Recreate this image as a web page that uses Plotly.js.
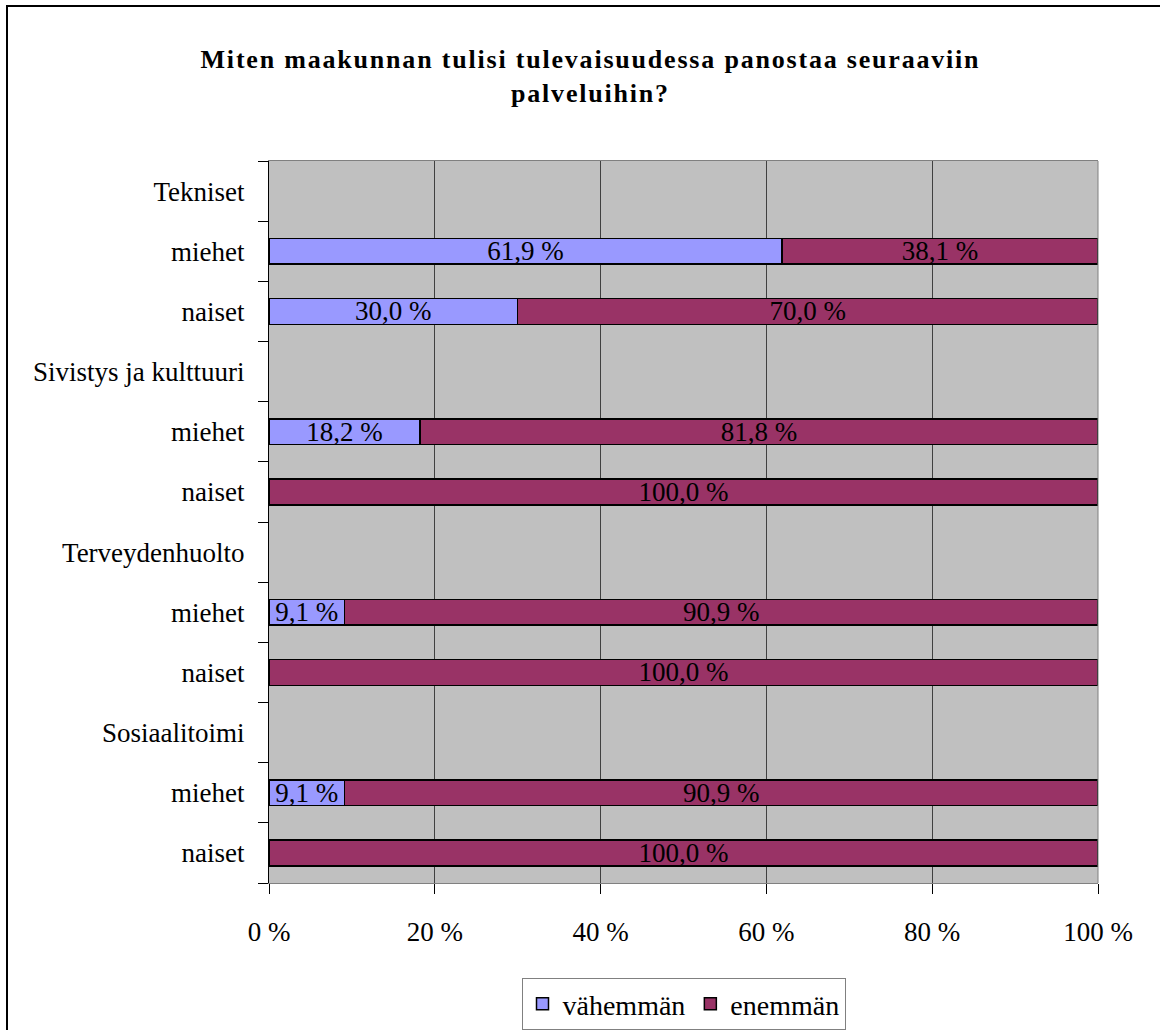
<!DOCTYPE html>
<html>
<head>
<meta charset="utf-8">
<script src="https://cdn.plot.ly/plotly-3.0.1.min.js"></script>
<style>
  html, body { margin: 0; padding: 0; background: #ffffff; }
  #wrap { position: relative; width: 1160px; height: 1030px; overflow: hidden; }
  #chart { width: 1160px; height: 1030px; }
  #frame { position: absolute; left: 6px; top: 5px; width: 1200px; height: 1100px;
           border-left: 2px solid #000; border-top: 2px solid #000; pointer-events: none; }
  .gtitle { letter-spacing: 1.8px; }
</style>
</head>
<body>
<div id="wrap">
  <div id="chart"></div>
  <div id="frame"></div>
</div>
<script>
// ---- data ----
var rowLabels = ['Tekniset', 'miehet', 'naiset',
                 'Sivistys ja kulttuuri', 'miehet', 'naiset',
                 'Terveydenhuolto', 'miehet', 'naiset',
                 'Sosiaalitoimi', 'miehet', 'naiset'];
var vahemman = [null, 61.9, 30.0, null, 18.2, null, null, 9.1, null, null, 9.1, null];
var enemman  = [null, 38.1, 70.0, null, 81.8, 100.0, null, 90.9, 100.0, null, 90.9, 100.0];
var seriesNames = ['vähemmän', 'enemmän'];
var seriesColors = ['#9999FF', '#993366'];
var xTickVals = [0, 20, 40, 60, 80, 100];
var xTickText = ['0 %', '20 %', '40 %', '60 %', '80 %', '100 %'];
var titleText = 'Miten maakunnan tulisi tulevaisuudessa panostaa seuraaviin<br>palveluihin?';

// ---- build ----
var pos = rowLabels.map(function (_, i) { return i; });
var bounds = [];
for (var b = 0; b <= rowLabels.length; b++) bounds.push(b - 0.5);
function fmt(v) { return v == null ? '' : v.toFixed(1).replace('.', ',') + ' %'; }

var font = 'Liberation Serif, Times New Roman, serif';
var fs = 27;

function makeTrace(vals, name, color) {
  return {
    type: 'bar', orientation: 'h',
    x: vals, y: pos, name: name,
    width: 0.43,
    marker: { color: color, line: { color: '#000000', width: 1.5 } },
    text: vals.map(fmt), textposition: 'inside', insidetextanchor: 'middle',
    textangle: 0, constraintext: 'none',
    textfont: { family: font, size: fs, color: '#000000' },
    hoverinfo: 'none'
  };
}

var data = [
  makeTrace(vahemman, seriesNames[0], seriesColors[0]),
  makeTrace(enemman, seriesNames[1], seriesColors[1])
];

var layout = {
  width: 1160, height: 1030,
  margin: { l: 269, r: 62, t: 161, b: 147, autoexpand: false },
  paper_bgcolor: '#ffffff',
  plot_bgcolor: '#C0C0C0',
  barmode: 'stack',
  font: { family: font, size: fs, color: '#000000' },
  uniformtext: { minsize: fs, mode: 'show' },
  title: {
    text: titleText,
    font: { family: font, size: 26, color: '#000000', weight: 'bold' },
    x: 0.509, xref: 'container', xanchor: 'center',
    y: 0.934, yref: 'container', yanchor: 'top'
  },
  xaxis: {
    range: [0, 100], tickvals: xTickVals, ticktext: xTickText,
    automargin: false,
    showgrid: true, gridcolor: '#404040', gridwidth: 1,
    zeroline: false,
    showline: true, linecolor: '#808080', linewidth: 1, mirror: true,
    ticks: 'outside', ticklen: 10, tickcolor: '#000000', tickwidth: 1,
    ticklabelstandoff: 15,
    tickfont: { family: font, size: fs, color: '#000000' },
    fixedrange: true
  },
  yaxis: {
    range: [rowLabels.length - 0.5, -0.5],
    tickvals: pos, ticktext: rowLabels,
    automargin: false,
    showgrid: false, zeroline: false,
    showline: true, linecolor: '#000000', linewidth: 1,
    ticks: 'outside', ticklen: 10, tickcolor: 'rgba(0,0,0,0)',
    ticklabelstandoff: 8,
    tickfont: { family: font, size: fs, color: '#000000' },
    fixedrange: true
  },
  yaxis2: {
    overlaying: 'y', side: 'left', anchor: 'x',
    automargin: false,
    range: [rowLabels.length - 0.5, -0.5],
    tickvals: bounds, showticklabels: false,
    showgrid: false, zeroline: false, showline: false,
    ticks: 'outside', ticklen: 10, tickcolor: '#000000', tickwidth: 1,
    fixedrange: true
  },
  shapes: [{
    type: 'line', xref: 'paper', yref: 'paper', x0: 1, x1: 1, y0: 0, y1: 1,
    line: { color: '#808080', width: 1 }
  }],
  showlegend: true,
  legend: {
    orientation: 'h', x: 0.5, xanchor: 'center', xref: 'paper',
    y: 0.0505, yanchor: 'top', yref: 'container',
    bgcolor: '#ffffff', bordercolor: '#808080', borderwidth: 1,
    font: { family: font, size: 28, color: '#000000' },
    traceorder: 'normal', itemclick: false, itemdoubleclick: false
  }
};

// dummy trace to make yaxis2 exist
data.push({ type: 'scatter', x: [null], y: [null], yaxis: 'y2', showlegend: false, hoverinfo: 'none' });

Plotly.newPlot('chart', data, layout, { displayModeBar: false, staticPlot: true });
</script>
</body>
</html>
